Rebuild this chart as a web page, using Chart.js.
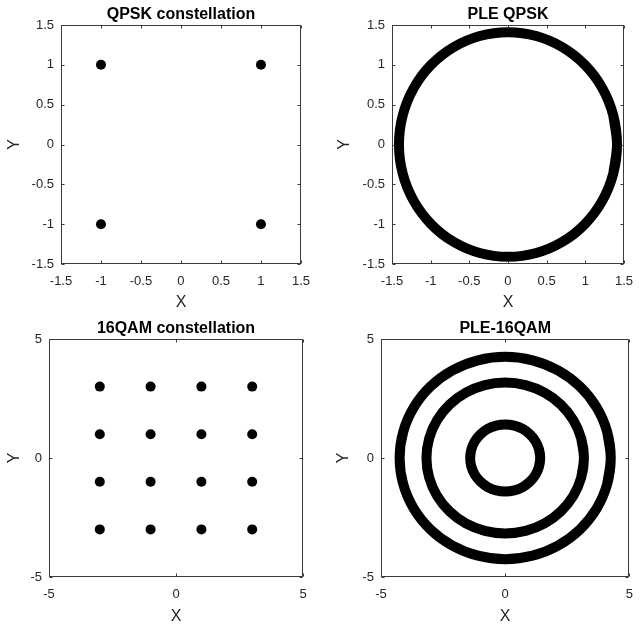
<!DOCTYPE html>
<html><head><meta charset="utf-8">
<script src="https://cdn.jsdelivr.net/npm/chart.js@4.4.1/dist/chart.umd.min.js"></script>
<style>
html,body{margin:0;padding:0;background:#fff}
body{width:643px;height:625px;position:relative;overflow:hidden}
canvas{position:absolute;display:block}
</style></head><body>
<canvas id="c1" width="320" height="310" style="left:0;top:0"></canvas>
<canvas id="c2" width="323" height="310" style="left:320px;top:0"></canvas>
<canvas id="c3" width="320" height="315" style="left:0;top:310px"></canvas>
<canvas id="c4" width="323" height="315" style="left:320px;top:310px"></canvas>
<script>
// ---- data ----
const titles = ['QPSK constellation', 'PLE QPSK', '16QAM constellation', 'PLE-16QAM'];
const qpskX = [1, -1, -1, 1];
const qpskY = [1, 1, -1, -1];
const qamX = [-3, -1, 1, 3, -3, -1, 1, 3, -3, -1, 1, 3, -3, -1, 1, 3];
const qamY = [3, 3, 3, 3, 1, 1, 1, 1, -1, -1, -1, -1, -3, -3, -3, -3];
// ring radii (PLE magnitudes)
const pleQpskRadii = [1.41];
const pleQamRadii = [1.41, 3.17, 4.25];
// unit circle outline (15 degree steps, -15..375 deg so the closing joint overlaps) used to trace each ring
const circleX = [0.9659, 1, 0.9659, 0.8660, 0.7071, 0.5, 0.2588, 0, -0.2588, -0.5, -0.7071, -0.8660, -0.9659, -1,
                 -0.9659, -0.8660, -0.7071, -0.5, -0.2588, 0, 0.2588, 0.5, 0.7071, 0.8660, 0.9659, 1, 0.9659];
const circleY = [-0.2588, 0, 0.2588, 0.5, 0.7071, 0.8660, 0.9659, 1, 0.9659, 0.8660, 0.7071, 0.5, 0.2588, 0,
                 -0.2588, -0.5, -0.7071, -0.8660, -0.9659, -1, -0.9659, -0.8660, -0.7071, -0.5, -0.2588, 0, 0.2588];
const qpskTicks = [-1.5, -1, -0.5, 0, 0.5, 1, 1.5];
const qamTicks = [-5, 0, 5];

const FONT = '"Liberation Sans", Arial, Helvetica, sans-serif';
const TXT = '#262626';

function pts(xs, ys) { return xs.map((x, i) => ({x, y: ys[i]})); }
function ring(r) { return circleX.map((c, i) => ({x: r * c, y: r * circleY[i]})); }

const boxTicks = {
  id: 'boxTicks',
  afterDraw(chart) {
    const {ctx, chartArea: a, scales: {x, y}} = chart;
    ctx.save();
    ctx.strokeStyle = '#3c3c3c';
    ctx.lineWidth = 1;
    const l = Math.round(a.left) + 0.5, r = Math.round(a.right) - 0.5;
    const t = Math.round(a.top) + 0.5, b = Math.round(a.bottom) - 0.5;
    ctx.strokeRect(l, t, r - l, b - t);
    const L = 3;
    ctx.beginPath();
    x.ticks.forEach(tk => {
      const p = Math.round(x.getPixelForValue(tk.value)) + 0.5;
      ctx.moveTo(p, b); ctx.lineTo(p, b - L);
      ctx.moveTo(p, t); ctx.lineTo(p, t + L);
    });
    y.ticks.forEach(tk => {
      const p = Math.round(y.getPixelForValue(tk.value)) + 0.5;
      ctx.moveTo(l, p); ctx.lineTo(l + L, p);
      ctx.moveTo(r, p); ctx.lineTo(r - L, p);
    });
    ctx.stroke();
    ctx.restore();
  }
};

function make(id, cfg) {
  const canvas = document.getElementById(id);
  const W = canvas.width, H = canvas.height;
  const tickVals = cfg.ticks;
  const axis = (isX) => ({
    type: 'linear',
    min: tickVals[0], max: tickVals[tickVals.length - 1],
    grid: {display: false, drawTicks: false},
    border: {display: false},
    afterBuildTicks: (s) => { s.ticks = tickVals.map(v => ({value: v})); },
    afterFit: (s) => { if (isX) s.height = H - cfg.area.bottom; else s.width = cfg.area.left; },
    ticks: {
      color: TXT, font: {family: FONT, size: 13},
      padding: isX ? cfg.xPad : 7,
      autoSkip: false, maxRotation: 0,
      callback: (v) => String(v)
    },
    title: {
      display: true, text: isX ? 'X' : 'Y', color: TXT,
      font: {family: FONT, size: 16},
      padding: isX ? {top: 0, bottom: cfg.xTitlePad} : {top: cfg.yTitlePad, bottom: 0}
    }
  });
  return new Chart(canvas, {
    type: 'scatter',
    data: {datasets: cfg.datasets},
    options: {
      responsive: false, animation: false, devicePixelRatio: 1,
      layout: {padding: {left: 0, top: 0, bottom: 0, right: W - cfg.area.right}},
      plugins: {
        legend: {display: false}, tooltip: {enabled: false},
        title: {
          display: true, text: cfg.title, color: '#000', fullSize: false,
          font: {family: FONT, size: 16, weight: 'bold'},
          padding: cfg.titlePad
        }
      },
      scales: {x: axis(true), y: axis(false)}
    },
    plugins: [boxTicks]
  });
}

function dots(xs, ys) {
  return {data: pts(xs, ys), pointRadius: 5, pointBackgroundColor: '#000', pointBorderWidth: 0, showLine: false};
}
function rings(radii) {
  return radii.map(r => ({
    data: ring(r), showLine: true, borderColor: '#000', borderWidth: 10,
    borderJoinStyle: 'round', borderCapStyle: 'butt', pointRadius: 0, tension: 0.34, fill: false
  }));
}

make('c1', {title: titles[0], ticks: qpskTicks, datasets: [dots(qpskX, qpskY)],
  area: {left: 61, right: 303, bottom: 264}, titlePad: {top: 5.3, bottom: 0.5}, xPad: 10, xTitlePad: -2, yTitlePad: 5});
make('c2', {title: titles[1], ticks: qpskTicks, datasets: rings(pleQpskRadii),
  area: {left: 72, right: 315, bottom: 264}, titlePad: {top: 5.3, bottom: 0.5}, xPad: 10, xTitlePad: -2, yTitlePad: 14.7});
make('c3', {title: titles[2], ticks: qamTicks, datasets: [dots(qamX, qamY)],
  area: {left: 49, right: 303, bottom: 267}, titlePad: {top: 8.5, bottom: 1.3}, xPad: 10, xTitlePad: -1, yTitlePad: 5});
make('c4', {title: titles[3], ticks: qamTicks, datasets: rings(pleQamRadii),
  area: {left: 61, right: 314, bottom: 267}, titlePad: {top: 8.5, bottom: 1.3}, xPad: 10, xTitlePad: -1, yTitlePad: 14});
</script>
</body></html>
